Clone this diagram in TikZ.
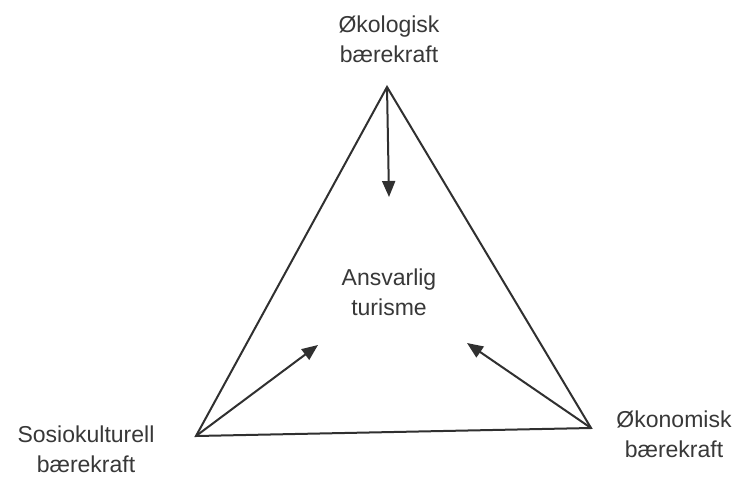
\documentclass[tikz,border=0pt]{standalone}
\usepackage{fontspec}
\setmainfont{Liberation Sans}
\usetikzlibrary{arrows.meta}
\definecolor{ink}{HTML}{303030}
\definecolor{txt}{HTML}{383838}
\begin{document}
\begin{tikzpicture}[x=1pt,y=-1pt,
  lbl/.style={text=txt,font=\fontsize{23}{30}\selectfont,align=center,inner sep=0pt},
  edge/.style={draw=ink,line width=2pt,line join=miter},
  arr/.style={draw=ink,line width=2pt,-{Triangle[length=16pt,width=13pt]}}]
\useasboundingbox (0,0) rectangle (741,477);
\fill[white] (0,0) rectangle (741,477);
\coordinate (T) at (387,87);
\coordinate (L) at (196,436);
\coordinate (R) at (591,428);
\coordinate (tT) at (389,197);
\coordinate (tL) at (318,345);
\coordinate (tR) at (467,343);
\draw[edge] (T) -- (L) -- (R) -- cycle;
\draw[arr] (T) -- (tT);
\draw[arr] (L) -- (tL);
\draw[arr] (R) -- (tR);
\node[lbl] (top) at (389,39) {Økologisk\\bærekraft};
\node[lbl] (left) at (86,449) {Sosiokulturell\\bærekraft};
\node[lbl] (right) at (674,434) {Økonomisk\\bærekraft};
\node[lbl] (mid) at (389,292) {Ansvarlig\\turisme};
\end{tikzpicture}
\end{document}
